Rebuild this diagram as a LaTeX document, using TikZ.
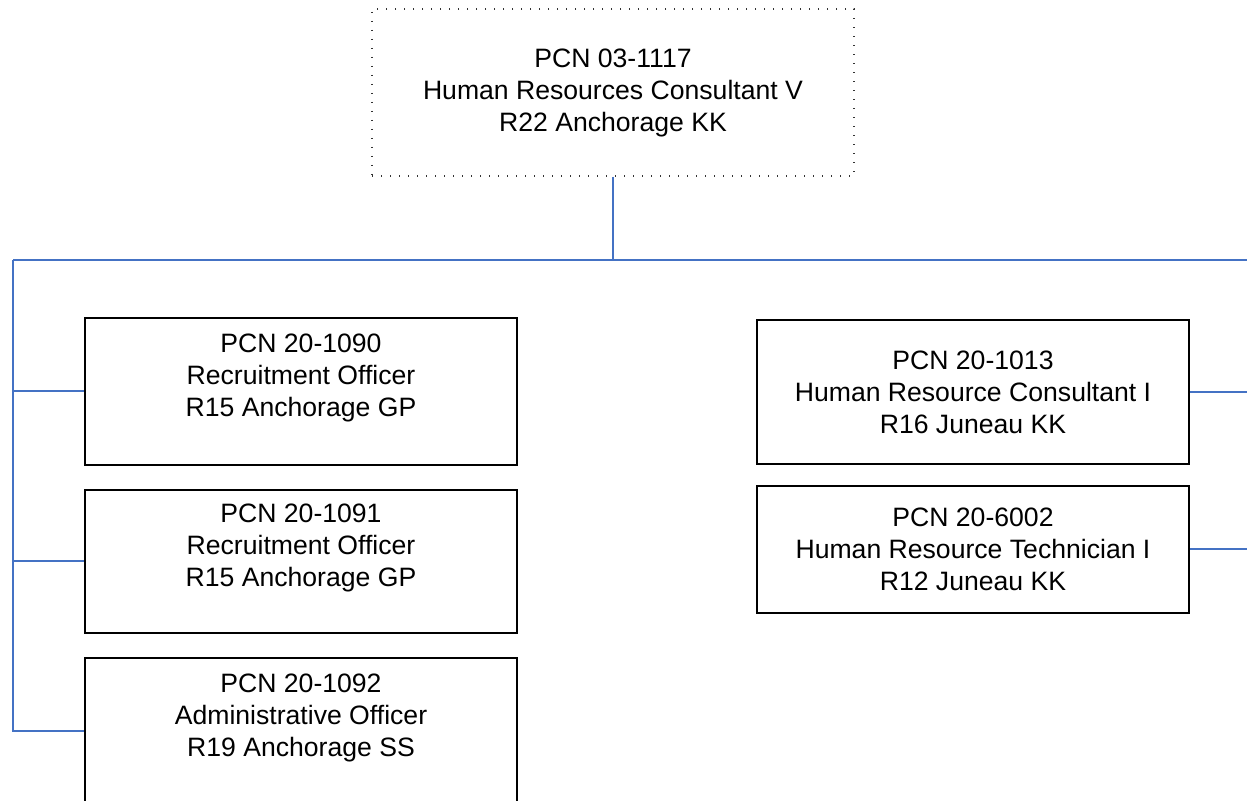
\documentclass[tikz,border=0pt]{standalone}
\usepackage{fontspec}
\setmainfont{Liberation Sans}
\usetikzlibrary{calc,positioning}
\tikzset{
  posnode/.style = {align=center, rectangle, inner sep=0pt, black, fill=white, text
  centered, font=\fontsize{13.3}{16}\selectfont},
  pos_top/.style = {posnode, draw=black!80, line width=0.6pt, dash pattern=on 0.6pt off 3.9pt,
  minimum width=241pt, minimum height=83.5pt},
  pos_box/.style = {posnode, draw=black, line width=1pt, minimum width=216pt}
}
\definecolor{my_blue}{RGB}{68, 114, 196}

\begin{document}
\begin{tikzpicture}[x=0.5pt,y=-0.5pt,
        	link/.style={draw=my_blue, line width=1pt},
        	tall/.style={minimum height=73.5pt},
        	mid/.style={minimum height=71.5pt},
        	short/.style={minimum height=63.5pt}]
		    \clip (0,0) rectangle (1247,801);
		    % connectors
		    \coordinate (busL) at (13,260);
		    \coordinate (busR) at (1248,260);
		    \node [pos_top] (top) at (613,92.5) {PCN 03-1117\\Human Resources Consultant V\\R22 Anchorage KK};
		    % left column
		    \node [pos_box, tall] (L1) at (301,391.5) {PCN 20-1090\\Recruitment Officer\\R15 Anchorage GP\\\mbox{}};
		    \node [pos_box, mid] (L2) at (301,561.5) {PCN 20-1091\\Recruitment Officer\\R15 Anchorage GP\\\mbox{}};
		    \node [pos_box, minimum height=73pt] (L3) at (301,731) {PCN 20-1092\\Administrative Officer\\R19 Anchorage SS\\\mbox{}};
		    % right column
		    \node [pos_box, minimum height=72pt] (R1) at (973,392) {PCN 20-1013\\Human Resource Consultant I\\R16 Juneau KK};
		    \node [pos_box, short] (R2) at (973,549.5) {PCN 20-6002\\Human Resource Technician I\\R12 Juneau KK};
		    \draw[link] (top.south) -- (top.south |- busL);
		    \draw[link] (busL) -- (busR);
		    \draw[link] (busL) |- (L3.west);
		    \draw[link] (busL |- L1.west) -- (L1.west);
		    \draw[link] (busL |- L2.west) -- (L2.west);
		    \draw[link] (R1.east) -- (R1.east -| busR);
		    \draw[link] (R2.east) -- (R2.east -| busR);
		\end{tikzpicture}
\end{document}
